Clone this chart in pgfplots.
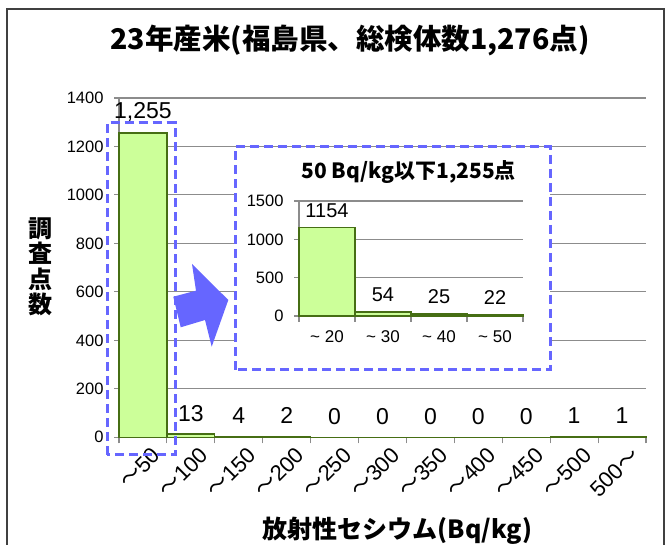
\documentclass[border=0pt]{standalone}
\usepackage{fontspec}
\setmainfont{Liberation Sans}
\newfontfamily\cjk{Noto Sans CJK JP}
\usepackage{pgfplots}
\pgfplotsset{compat=1.18}

\definecolor{barfill}{RGB}{204,255,153}
\definecolor{baredge}{RGB}{70,110,20}
\definecolor{gridgray}{RGB}{140,140,140}
\definecolor{dashblue}{RGB}{102,102,255}

\pgfplotsset{
  chartbase/.style={
    scale only axis,
    clip=false,
    axis x line*=bottom,
    axis y line*=left,
    axis line style={gridgray, line width=1.3pt},
    ymajorgrids=true,
    major grid style={gridgray, line width=1.1pt},
    tick align=outside,
    tick style={gridgray, line width=1.1pt},
    major tick length=5pt,
    minor tick length=6pt,
    major x tick style={draw=none},
    /pgf/number format/assume math mode=true,
    /pgf/number format/1000 sep={},
    ybar,
  },
}

\begin{document}
\begin{tikzpicture}[x=1pt,y=1pt]
\useasboundingbox (0,0) rectangle (667,544);

% outer frame
\draw[line width=1.3pt, black!75] (7,-10) rectangle (664,535);

% main chart
\begin{axis}[
    chartbase,
    at={(119pt,106.7pt)}, anchor=south west,
    width=527pt, height=339.3pt,
    xmin=-0.5, xmax=10.5,
    ymin=0, ymax=1400,
    ytick={0,200,...,1400},
    xtick={0,...,10},
    minor xtick={-0.5,0.5,...,10.5},
    xticklabels={{\cjk ～}50,{\cjk ～}100,{\cjk ～}150,{\cjk ～}200,{\cjk ～}250,{\cjk ～}300,{\cjk ～}350,{\cjk ～}400,{\cjk ～}450,{\cjk ～}500,500{\cjk ～}},
    yticklabel style={font=\fontsize{16.5}{18}\selectfont, xshift=-7pt},
    xticklabel style={rotate=45, anchor=north east, inner sep=0pt,
      font=\fontsize{22}{23}\selectfont, xshift=3pt, yshift=-8pt},
    bar width=47.9pt,
    nodes near coords={\pgfmathprintnumber[1000 sep={,}]{\pgfplotspointmeta}},
    every node near coord/.append style={anchor=center, yshift=21pt,
      font=\fontsize{23}{24}\selectfont, black},
  ]
  \addplot[fill=barfill, draw=baredge, line width=1.3pt] coordinates {
    (0,1255) (1,13) (2,4) (3,2) (4,0) (5,0) (6,0) (7,0) (8,0) (9,1) (10,1)
  };
\end{axis}

% inset frame
\filldraw[fill=white, draw=dashblue, line width=3pt, dash pattern=on 9pt off 5pt]
  (235,174) rectangle (550,397);

% inset chart
\begin{axis}[
    chartbase,
    at={(299pt,228pt)}, anchor=south west,
    width=224pt, height=115pt,
    xmin=-0.5, xmax=3.5,
    ymin=0, ymax=1500,
    ytick={0,500,1000,1500},
    xtick={0,...,3},
    minor xtick={-0.5,0.5,...,3.5},
    xticklabels={\textasciitilde\ 20,\textasciitilde\ 30,\textasciitilde\ 40,\textasciitilde\ 50},
    yticklabel style={font=\fontsize{16.5}{18}\selectfont, xshift=-7pt},
    xticklabel style={font=\fontsize{17}{18}\selectfont, yshift=-6pt},
    bar width=56pt,
    nodes near coords,
    every node near coord/.append style={anchor=center, yshift=17pt,
      font=\fontsize{20}{21}\selectfont, black},
  ]
  \addplot[fill=barfill, draw=baredge, line width=1.3pt] coordinates {
    (0,1154) (1,54) (2,25) (3,22)
  };
\end{axis}

\node[font=\cjk\bfseries\fontsize{21}{22}\selectfont] at (408.7,372.3) {50 Bq/kg以下1,255点};

% arrow
\fill[dashblue] (173.3,247.3) -- (196,253.3) -- (192,280) -- (228.3,244)
  -- (211.7,197.3) -- (205,224) -- (180.7,216.7) -- cycle;

% box around first bar
\draw[dashblue, line width=3pt, dash pattern=on 9pt off 5pt] (107,89) rectangle (175,421.3);

% titles
\node[font=\cjk\bfseries\fontsize{28.5}{30}\selectfont] at (350,504) {23年産米(福島県、総検体数1,276点)};
\node[font=\cjk\bfseries\fontsize{25}{26}\selectfont] at (397.5,13) {放射性セシウム(Bq/kg)};
\node[font=\cjk\bfseries\fontsize{24}{25.5}\selectfont, align=center] at (40,277) {調\\査\\点\\数};
\end{tikzpicture}
\end{document}
